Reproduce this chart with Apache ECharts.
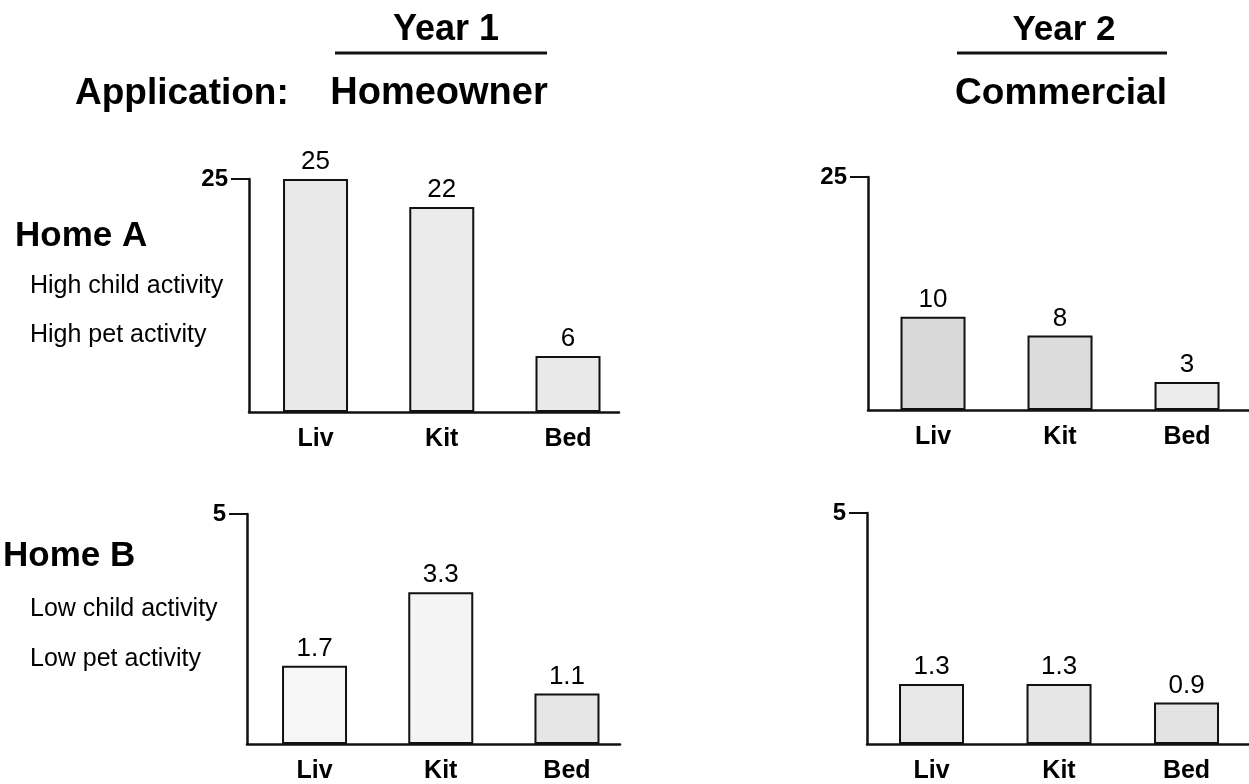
<!DOCTYPE html>
<html>
<head>
<meta charset="utf-8">
<script src="https://cdn.jsdelivr.net/npm/echarts@6/dist/echarts.min.js"></script>
<style>
html,body{margin:0;padding:0;background:#fff;}
#chart{width:1249px;height:784px;}
</style>
</head>
<body>
<div id="chart"></div>
<script>
// ---- data ----
var categories = ['Liv', 'Kit', 'Bed'];
var homeAYear1 = [25, 22, 6];
var homeAYear2 = [10, 8, 3];
var homeBYear1 = [1.7, 3.3, 1.1];
var homeBYear2 = [1.3, 1.3, 0.9];
var yTicksA = [25];
var yTicksB = [5];
var yMaxA = 25;
var yMaxB = 5;

// ---- layout / style ----
var FONT = "'Liberation Sans', Arial, Helvetica, sans-serif";
var panels = [
  {values: homeAYear1, ymax: yMaxA, ticks: yTicksA, grid: {left: 249, top: 179, width: 370, height: 233}, xmin: -0.527, xmax: 2.404, fills: ['#e9e9e9', '#ebebeb', '#e9e9e9']},
  {values: homeAYear2, ymax: yMaxA, ticks: yTicksA, grid: {left: 868, top: 177, width: 381, height: 233}, xmin: -0.512, xmax: 2.488, fills: ['#d9d9d9', '#dcdcdc', '#ececec']},
  {values: homeBYear1, ymax: yMaxB, ticks: yTicksB, grid: {left: 247, top: 514, width: 373, height: 233}, xmin: -0.535, xmax: 2.420, fills: ['#f6f6f6', '#f4f4f4', '#e6e6e6']},
  {values: homeBYear2, ymax: yMaxB, ticks: yTicksB, grid: {left: 867, top: 513, width: 382, height: 232}, xmin: -0.506, xmax: 2.490, fills: ['#e7e7e7', '#e6e6e6', '#e3e3e3']}
];

var grids = [], xAxes = [], yAxes = [], series = [];
panels.forEach(function (p, k) {
  grids.push(Object.assign({containLabel: false}, p.grid));
  xAxes.push({
    type: 'value', gridIndex: k, min: p.xmin, max: p.xmax,
    splitLine: {show: false},
    axisLine: {show: true, onZero: true, lineStyle: {color: '#111', width: 2.5}},
    axisTick: {show: false},
    axisLabel: {
      show: true, customValues: [0, 1, 2], margin: 15,
      formatter: function (v) { return categories[Math.round(v)]; },
      color: '#000', fontFamily: FONT, fontWeight: 'bold', fontSize: 25
    }
  });
  yAxes.push({
    type: 'value', gridIndex: k, min: 0, max: p.ymax,
    splitLine: {show: false},
    axisLine: {show: true, onZero: false, lineStyle: {color: '#111', width: 2.5}},
    axisTick: {show: true, customValues: p.ticks, length: 18, lineStyle: {color: '#111', width: 2}},
    axisLabel: {
      show: true, customValues: p.ticks, margin: 21,
      color: '#000', fontFamily: FONT, fontWeight: 'bold', fontSize: 24
    }
  });
  series.push({
    type: 'bar', xAxisIndex: k, yAxisIndex: k, barWidth: 65,
    data: p.values.map(function (v, i) {
      return {value: [i, v], itemStyle: {color: p.fills[i]}};
    }),
    itemStyle: {borderColor: '#111', borderWidth: 2},
    label: {
      show: true, position: 'top', distance: 4,
      formatter: function (q) { return q.value[1]; },
      color: '#000', fontFamily: FONT, fontSize: 26
    },
    silent: true, animation: false
  });
});

function txt(s, x, y, size, bold, align) {
  return {
    type: 'text', x: x, y: y, silent: true,
    style: {
      text: s, fill: '#000', align: align || 'left', verticalAlign: 'middle',
      font: (bold ? 'bold ' : '') + size + 'px ' + FONT
    }
  };
}
function hline(x1, x2, y) {
  return {type: 'line', silent: true, shape: {x1: x1, y1: y, x2: x2, y2: y}, style: {stroke: '#111', lineWidth: 3}};
}

var graphics = [
  txt('Year 1', 446, 30, 36, true, 'center'),
  hline(335, 547, 53),
  txt('Year 2', 1064, 30, 35, true, 'center'),
  hline(957, 1167, 53),
  txt('Application:', 75, 94, 37, true, 'left'),
  txt('Homeowner', 439, 94, 38, true, 'center'),
  txt('Commercial', 1061, 94, 37, true, 'center'),
  txt('Home A', 15, 236, 35, true, 'left'),
  txt('High child activity', 30, 286, 25, false, 'left'),
  txt('High pet activity', 30, 335, 25, false, 'left'),
  txt('Home B', 3, 556, 35, true, 'left'),
  txt('Low child activity', 30, 609, 25, false, 'left'),
  txt('Low pet activity', 30, 659, 25, false, 'left')
];

var chart = echarts.init(document.getElementById('chart'), null, {renderer: 'canvas'});
chart.setOption({
  animation: false,
  backgroundColor: '#fff',
  grid: grids,
  xAxis: xAxes,
  yAxis: yAxes,
  series: series,
  graphic: graphics
});
</script>
</body>
</html>
